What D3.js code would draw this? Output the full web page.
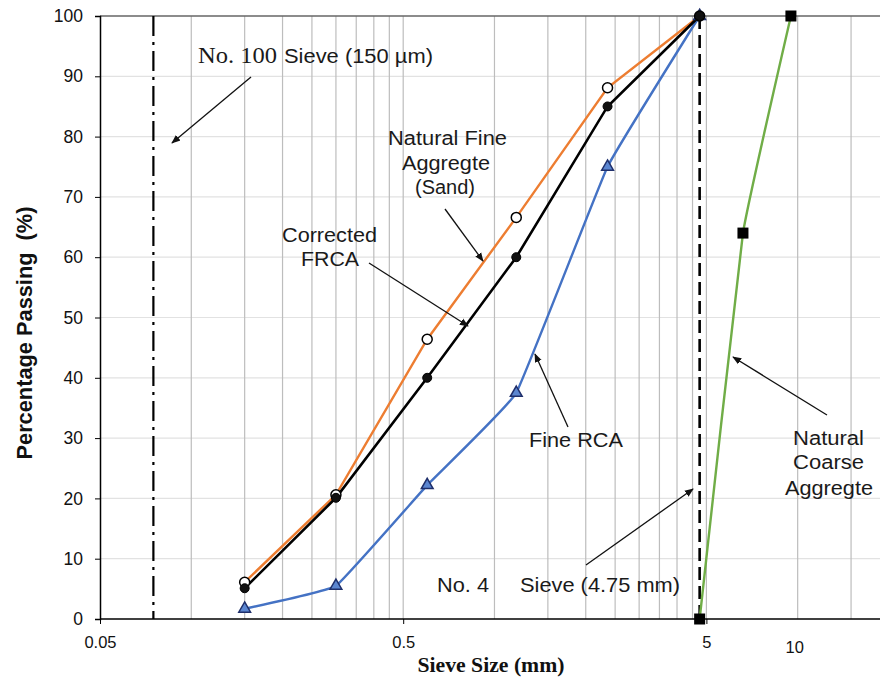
<!DOCTYPE html>
<html>
<head>
<meta charset="utf-8">
<script src="https://cdn.jsdelivr.net/npm/d3@7"></script>
<style>
body{margin:0;background:#fff;}
svg{display:block;}
</style>
</head>
<body>
<svg id="c" width="880" height="679"></svg>
<script>
// ---- data ----
const sieveFine = [0.15, 0.3, 0.6, 1.18, 2.36, 4.75];
const naturalFine = [6.1, 20.6, 46.4, 66.6, 88.1, 100];
const correctedFRCA = [5.1, 20.1, 40, 60, 85, 100];
const fineRCA = [1.7, 5.5, 22.2, 37.5, 75, 100];
const sieveCoarse = [4.75, 6.6, 9.5];
const naturalCoarse = [0, 64, 100];
const yTicks = [0,10,20,30,40,50,60,70,80,90,100];
const xGrid = [0.05,0.1,0.15,0.2,0.25,0.3,0.35,0.4,0.45,0.5,1,1.5,2,2.5,3,3.5,4,4.5,5,10,15,20];
const xLabels = ["0.05","0.5","5"];
const xLabel10 = "10";
const no200 = 0.075, no4 = 4.75;

const svg = d3.select("#c");
const L = 100, T = 16, B = 619;
const x = d3.scaleLog().domain([0.05, 20]).range([L, L + 303.2 * Math.log10(400)]);
const y = d3.scaleLinear().domain([0, 100]).range([B, T]);
const RIGHT = 880;
const sans = "Liberation Sans, Arial";
const serif = "Liberation Serif, Times New Roman";

// horizontal gridlines
svg.append("g").selectAll("line").data(yTicks.filter(d => d > 0 && d < 100)).join("line")
  .attr("x1", L).attr("x2", RIGHT).attr("y1", d => y(d)).attr("y2", d => y(d))
  .attr("stroke", "#e2e2e2").attr("stroke-width", 1.2);
// vertical gridlines
svg.append("g").selectAll("line").data(xGrid.filter(d => d > 0.05)).join("line")
  .attr("x1", d => x(d)).attr("x2", d => x(d)).attr("y1", T).attr("y2", B)
  .attr("stroke", "#bdbdbd").attr("stroke-width", 1.2);
// top border
svg.append("line").attr("x1", L).attr("x2", RIGHT).attr("y1", T).attr("y2", T)
  .attr("stroke", "#666").attr("stroke-width", 1.3);

// axes
const yAxis = d3.axisLeft(y).tickValues(yTicks).tickSize(5).tickPadding(12);
const gy = svg.append("g").attr("transform", `translate(${L},0)`).call(yAxis);
gy.select(".domain").attr("stroke", "#000").attr("stroke-width", 1.5);
gy.selectAll(".tick line").attr("stroke", "#000");
gy.selectAll("text").attr("font-family", sans).attr("font-size", 17.5).attr("fill", "#111");

const xAxis = d3.axisBottom(x).tickValues([0.05, 0.5, 5]).tickFormat((d, i) => xLabels[i]).tickSize(5).tickPadding(12);
const gx = svg.append("g").attr("transform", `translate(0,${B})`).call(xAxis);
gx.select(".domain").remove();
gx.append("line").attr("x1", L).attr("x2", RIGHT).attr("y1", 0).attr("y2", 0).attr("stroke", "#000").attr("stroke-width", 1.5);
gx.selectAll(".tick line").attr("stroke", "#000");
gx.selectAll("text").attr("font-family", sans).attr("font-size", 16.5).attr("fill", "#111");
svg.append("text").attr("x", x(10) - 3).attr("y", 653).attr("text-anchor", "middle")
  .attr("font-family", sans).attr("font-size", 16.5).attr("fill", "#111").text(xLabel10);

// axis titles
svg.append("text").attr("transform", "translate(32,333) rotate(-90)").attr("text-anchor", "middle")
  .attr("font-family", sans).attr("font-weight", "bold").attr("font-size", 21.5)
  .attr("fill", "#111").attr("xml:space", "preserve")
  .attr("textLength", 253).attr("lengthAdjust", "spacingAndGlyphs").text("Percentage Passing  (%)");
svg.append("text").attr("x", 491).attr("y", 672).attr("text-anchor", "middle")
  .attr("font-family", serif).attr("font-weight", "bold").attr("font-size", 21)
  .attr("fill", "#111").attr("textLength", 147).attr("lengthAdjust", "spacingAndGlyphs").text("Sieve Size (mm)");

// reference sieve lines
svg.append("line").attr("x1", x(no200)).attr("x2", x(no200)).attr("y1", T).attr("y2", B)
  .attr("stroke", "#000").attr("stroke-width", 2.2).attr("stroke-dasharray", "20,6,3,6");
svg.append("line").attr("x1", x(no4)).attr("x2", x(no4)).attr("y1", T).attr("y2", B)
  .attr("stroke", "#000").attr("stroke-width", 2.6).attr("stroke-dasharray", "13,6");

// series lines
function pts(xs, ys) { return xs.map((d, i) => [x(d), y(ys[i])]); }
const lin = d3.line();
const smooth = d3.line().curve(d3.curveCardinal.tension(0.75));
svg.append("path").attr("d", lin(pts(sieveFine, naturalFine))).attr("fill", "none").attr("stroke", "#ED7D31").attr("stroke-width", 2.4);
svg.append("path").attr("d", smooth(pts(sieveFine, fineRCA))).attr("fill", "none").attr("stroke", "#4472C4").attr("stroke-width", 2.4);
svg.append("path").attr("d", lin(pts(sieveFine, correctedFRCA))).attr("fill", "none").attr("stroke", "#000").attr("stroke-width", 2.6);
svg.append("path").attr("d", smooth(pts(sieveCoarse, naturalCoarse))).attr("fill", "none").attr("stroke", "#70AD47").attr("stroke-width", 2.4);

// markers
svg.append("g").selectAll("path").data(sieveFine).join("path")
  .attr("d", d3.symbol(d3.symbolTriangle, 60)())
  .attr("transform", (d, i) => `translate(${x(d)},${y(fineRCA[i])})`)
  .attr("fill", "#5b86d1").attr("stroke", "#1f2f6b").attr("stroke-width", 1.5);
svg.append("g").selectAll("circle").data(sieveFine).join("circle")
  .attr("cx", d => x(d)).attr("cy", (d, i) => y(naturalFine[i])).attr("r", 5)
  .attr("fill", "#fff").attr("stroke", "#000").attr("stroke-width", 1.5);
svg.append("g").selectAll("circle").data(sieveFine).join("circle")
  .attr("cx", d => x(d)).attr("cy", (d, i) => y(correctedFRCA[i])).attr("r", 4.5)
  .attr("fill", "#111").attr("stroke", "#000");
svg.append("g").selectAll("rect").data(sieveCoarse).join("rect")
  .attr("x", d => x(d) - 5.5).attr("y", (d, i) => y(naturalCoarse[i]) - 5.5).attr("width", 11).attr("height", 11)
  .attr("fill", "#000");

// annotations
svg.append("defs").append("marker").attr("id", "ah").attr("viewBox", "0 0 10 10")
  .attr("refX", 9).attr("refY", 5).attr("markerWidth", 9).attr("markerHeight", 9)
  .attr("orient", "auto").attr("markerUnits", "userSpaceOnUse")
  .append("path").attr("d", "M0,1 L10,5 L0,9 Z").attr("fill", "#111");
function arrow(x1, y1, x2, y2) {
  svg.append("line").attr("x1", x1).attr("y1", y1).attr("x2", x2).attr("y2", y2)
    .attr("stroke", "#111").attr("stroke-width", 1.3).attr("marker-end", "url(#ah)");
}
// txt: left x, baseline y, font size, target width, family
function txt(s, x0, y0, size, w, fam) {
  svg.append("text").attr("x", x0).attr("y", y0).attr("font-family", fam || sans)
    .attr("font-size", size).attr("fill", "#1a1a1a")
    .attr("textLength", w).attr("lengthAdjust", "spacingAndGlyphs").text(s);
}
// No. 100 sieve
txt("No. 100", 198, 63, 22.5, 79, serif);
txt("Sieve (150 µm)", 284, 63, 20.5, 149);
arrow(251, 77, 172, 143);
// Natural fine
txt("Natural Fine", 388, 145, 20, 119);
txt("Aggregte", 402, 170, 20, 88);
txt("(Sand)", 415, 194, 20, 60);
arrow(445, 209, 483, 261);
// Corrected FRCA
txt("Corrected", 282, 242, 20, 95);
txt("FRCA", 301, 266, 20, 58);
arrow(369, 263, 468, 326);
// Fine RCA
txt("Fine RCA", 529, 447, 20, 94);
arrow(568, 427, 535, 354);
// No. 4 sieve
txt("No. 4", 437, 592, 21, 52);
txt("Sieve (4.75 mm)", 520, 592, 21, 160);
arrow(586, 565, 693, 489);
// Natural coarse
txt("Natural", 793, 445, 20, 71);
txt("Coarse", 793, 469, 20, 71);
txt("Aggregte", 785, 495, 20, 88);
arrow(827, 415, 733, 357);
</script>
</body>
</html>
